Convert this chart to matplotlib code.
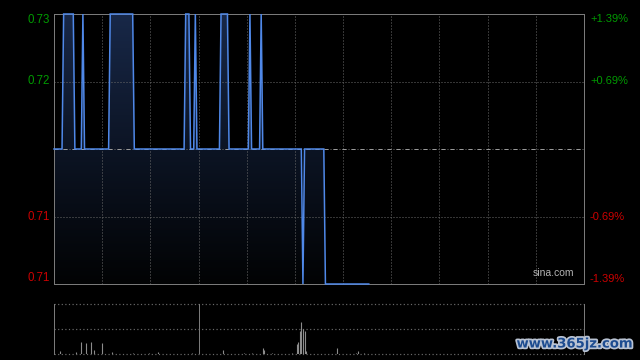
import matplotlib
matplotlib.use('Agg')
import matplotlib.pyplot as plt
import numpy as np
import matplotlib.transforms as mtransforms
import matplotlib.patheffects as pe
from matplotlib.colors import LinearSegmentedColormap
from matplotlib.patches import Polygon

plt.rcParams['font.family'] = ['Liberation Sans', 'DejaVu Sans']

# ---------------- data ----------------
prev_close = 0.72
y_min, y_max = 0.71, 0.73
session_minutes = 330

# price line vertices (minute of session, price)
price_minutes = [0, 5, 6, 12, 13, 17, 18, 19, 34, 35, 49, 50, 81, 82, 84, 85,
                 87, 88, 89, 103, 104, 108, 109, 121, 122, 123, 128, 129, 130,
                 154, 155, 156, 168, 169, 196]
price_values = [0.72, 0.72, 0.73, 0.73, 0.72, 0.72, 0.73, 0.72, 0.72, 0.73,
                0.73, 0.72, 0.72, 0.73, 0.73, 0.72, 0.72, 0.73, 0.72, 0.72,
                0.73, 0.73, 0.72, 0.72, 0.73, 0.72, 0.72, 0.73, 0.72, 0.72,
                0.71, 0.72, 0.72, 0.71, 0.71]

# volume bars (minute of session, shares)
vol_minutes = [4, 14, 17, 20, 23, 25, 30, 36, 49, 59, 65, 86, 105, 118, 123,
               130, 131, 136, 148, 151, 152, 153, 154, 155, 156, 157, 176,
               188, 189, 193]
vol_values = [6000, 4000, 24000, 22000, 24000, 8000, 22000, 4000, 2000, 2000,
              4000, 2000, 8000, 2000, 2000, 12000, 8000, 2000, 2000, 20000,
              24000, 46000, 64000, 50000, 46000, 6000, 12000, 2000, 6000, 2000]
vol_max = 100000

left_levels = [0.73, 0.725, 0.715, 0.71]
left_labels = ['0.73', '0.72', '0.71', '0.71']
grid_levels = [0.715, 0.72, 0.725]
grid_minutes = list(range(30, session_minutes, 30))
lunch_minute = 90

# ---------------- style ----------------
GREEN = '#009a00'
RED = '#cc0000'
GRID = '#6a6a6a'
FRAME = '#7a7a7a'
LINE = '#4f88e8'
DOT = (0, (1, 2))
PX = 0.72

fig = plt.figure(figsize=(6.4, 3.6), dpi=100, facecolor='black')
ax = fig.add_axes([54 / 640, 76 / 360, 530 / 640, 270 / 360])
axv = fig.add_axes([54 / 640, 6 / 360, 530 / 640, 50 / 360])

# ---------------- price pane ----------------
ax.set_facecolor('black')
for m in grid_minutes:
    ax.axvline(m, color=GRID, lw=PX, ls=DOT, zorder=2)
for lv in grid_levels:
    ax.axhline(lv, color=GRID, lw=PX, ls=DOT, zorder=2)
ax.axhline(prev_close, color='#9a9a9a', lw=PX, ls=(0, (4, 5)), zorder=2)

cmap = LinearSegmentedColormap.from_list('g', ['#020304', '#0c1424', '#182848'])
verts = list(zip(price_minutes, price_values)) + [(price_minutes[-1], y_min), (price_minutes[0], y_min)]
poly = Polygon(verts, closed=True, facecolor='none', edgecolor='none')
ax.add_patch(poly)
grad = np.linspace(0, 1, 256).reshape(-1, 1)
im = ax.imshow(grad, extent=[price_minutes[0], price_minutes[-1], y_min, y_max],
               origin='lower', cmap=cmap, aspect='auto', zorder=1, interpolation='bilinear')
im.set_clip_path(poly)

ax.plot(price_minutes, price_values, color=LINE, lw=1.1, zorder=5, clip_on=False,
        solid_joinstyle='miter')

ax.set_xlim(0, session_minutes)
ax.set_ylim(y_min, y_max)
ax.set_xticks([])
ax.set_yticks([])
for s in ax.spines.values():
    s.set_color(FRAME)
    s.set_linewidth(PX)

trans = mtransforms.blended_transform_factory(ax.transAxes, ax.transData)
for lv, lab in zip(left_levels, left_labels):
    col = GREEN if lv > prev_close else RED
    va = 'top' if lv == y_max else ('bottom' if lv == y_min else 'center')
    ax.text(-4 / 530, lv, lab, transform=trans, ha='right', va=va, color=col, fontsize=8.3)
    pct = (lv - prev_close) / prev_close * 100
    ax.text(1 + 6 / 530, lv, f'{pct:+.2f}%', transform=trans, ha='left', va=va,
            color=col, fontsize=8)

ax.text(0.982, 0.022, 'sina.com', transform=ax.transAxes, ha='right', va='bottom',
        color='#b4b4b4', fontsize=7.5, zorder=6)

# ---------------- volume pane ----------------
axv.set_facecolor('black')
axv.vlines(vol_minutes, 0, vol_values, color='#8c8c8c', lw=0.8, zorder=3)
axv.set_xlim(0, session_minutes)
axv.set_ylim(0, vol_max)
for lv in [0, vol_max / 2, vol_max]:
    axv.axhline(lv, color=GRID, lw=PX * 1.2, ls=DOT, clip_on=False, zorder=2)
axv.axvline(lunch_minute, color=FRAME, lw=PX, zorder=2)
axv.set_xticks([])
axv.set_yticks([])
for k in ['top', 'bottom']:
    axv.spines[k].set_visible(False)
for k in ['left', 'right']:
    axv.spines[k].set_color(FRAME)
    axv.spines[k].set_linewidth(PX)

# watermark
fig.text(575 / 640, 1 - 344 / 360, 'www.365jz.com', ha='center', va='center',
         color='#1d4c90', fontsize=9.5, fontweight='bold', family='DejaVu Sans',
         path_effects=[pe.withStroke(linewidth=2.5, foreground='#b9c3d3')])

fig.savefig('out.png', dpi=100, facecolor='black')
